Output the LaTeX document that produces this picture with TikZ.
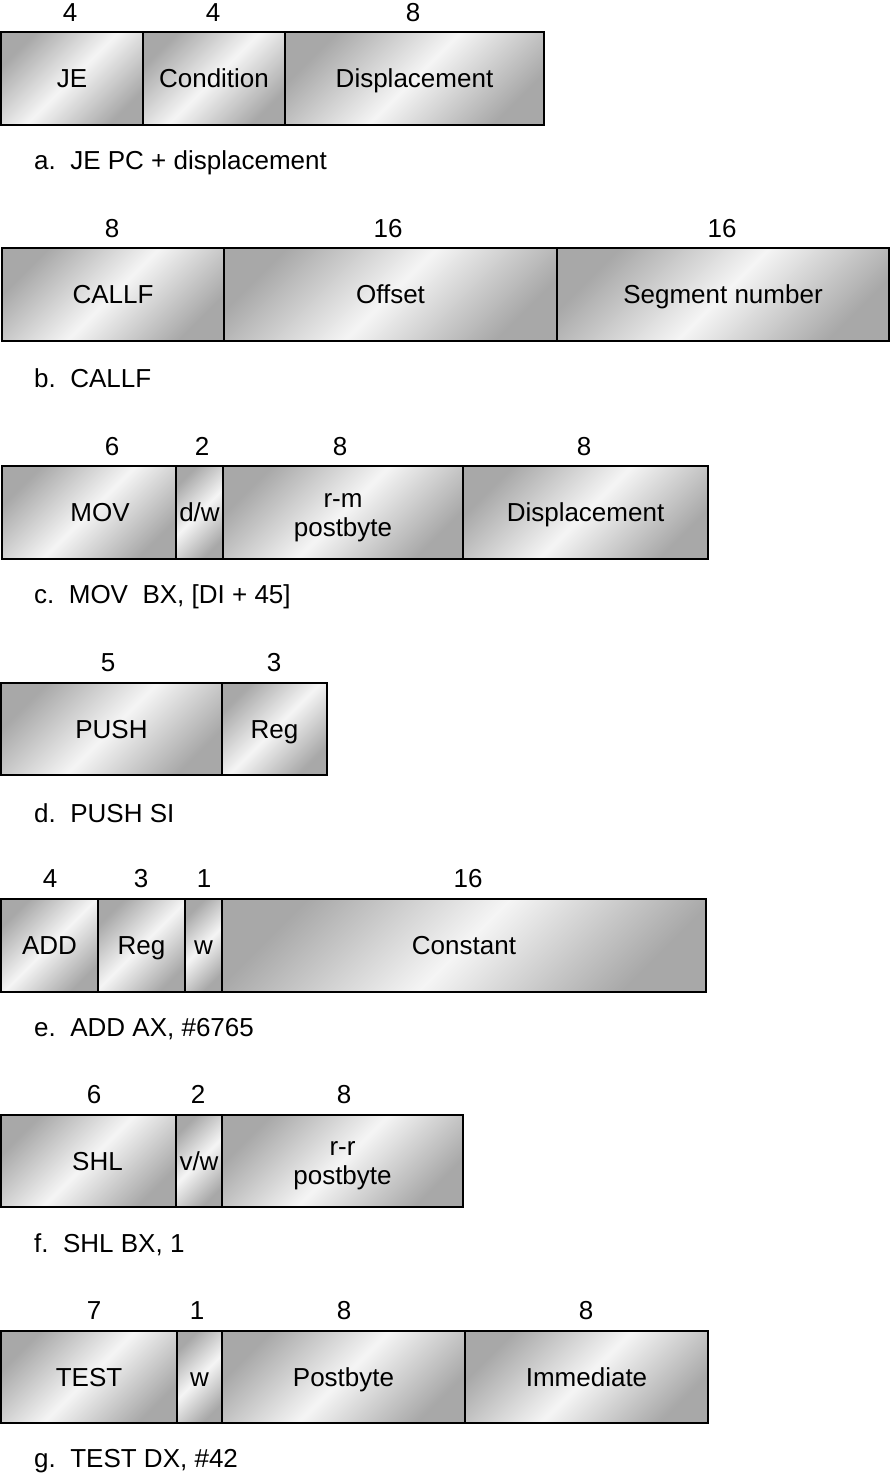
\documentclass[tikz,border=0pt]{standalone}
\usepackage{fontspec}
\setmainfont{Liberation Sans}
\newcommand{\fst}{\rule[-5pt]{0pt}{28.6pt}}
\begin{document}
\begin{tikzpicture}[x=1pt,y=-1pt,
  field/.style={draw=black, line width=1.8pt, rectangle, inner sep=0pt,
    top color=black!34, bottom color=black!34, middle color=black!4,
    shading angle=45, align=center,
    font=\fontsize{26}{29}\selectfont},
  bits/.style={inner sep=0pt, text height=23.6pt, text depth=5pt,
    font=\fontsize{26}{29}\selectfont},
  caption/.style={anchor=west, inner sep=0pt, font=\fontsize{26}{29}\selectfont}]
\useasboundingbox (0,0) rectangle (891,1475);
\newcommand{\fld}[6]{\node[field, minimum width={#3pt-#2pt}, minimum height={#5pt-#4pt}]
   (#1) at ({(#2+#3)/2},{(#4+#5)/2}) {#6};}
% a
\fld{a1}{1}{143}{32}{125}{\fst JE}
\fld{a2}{143}{285}{32}{125}{\fst Condition}
\fld{a3}{285}{544}{32}{125}{\fst Displacement}
\node[bits] (na1) at (70,12) {4};
\node[bits] (na2) at (213,12) {4};
\node[bits] (na3) at (413,12) {8};
\node[caption] (ca) at (34,163) {a.\ \ JE PC + displacement};
% b
\fld{b1}{2}{224}{248}{341}{\fst CALLF}
\fld{b2}{224}{557}{248}{341}{\fst Offset}
\fld{b3}{557}{889}{248}{341}{\fst Segment number}
\node[bits] (nb1) at (112,228) {8};
\node[bits] (nb2) at (388,228) {16};
\node[bits] (nb3) at (722,228) {16};
\node[caption] (cb) at (34,378) {b.\ \ CALLF};
% c
\fld{c1}{2}{176}{466}{559}{\fst\hspace{22pt}MOV}
\fld{c2}{176}{223}{466}{559}{\fst d/w}
\fld{c3}{223}{463}{466}{559}{\fst r-m\\\fst postbyte}
\fld{c4}{463}{708}{466}{559}{\fst Displacement}
\node[bits] (nc1) at (112,446) {6};
\node[bits] (nc2) at (202,446) {2};
\node[bits] (nc3) at (340,446) {8};
\node[bits] (nc4) at (584,446) {8};
\node[caption] (cc) at (34,597) {c.\ \ MOV\ \ BX, [DI + 45]};
% d
\fld{d1}{1}{222}{683}{775}{\fst PUSH}
\fld{d2}{222}{327}{683}{775}{\fst Reg}
\node[bits] (nd1) at (108,662) {5};
\node[bits] (nd2) at (274,662) {3};
\node[caption] (cd) at (34,813) {d.\ \ PUSH SI};
% e
\fld{e1}{1}{98}{899}{992}{\fst ADD}
\fld{e2}{98}{185}{899}{992}{\fst Reg}
\fld{e3}{185}{222}{899}{992}{\fst w}
\fld{e4}{222}{706}{899}{992}{\fst Constant}
\node[bits] (ne1) at (50,878) {4};
\node[bits] (ne2) at (141,878) {3};
\node[bits] (ne3) at (204,878) {1};
\node[bits] (ne4) at (468,878) {16};
\node[caption] (ce) at (34,1029) {e.\ \ ADD AX, \#6765};
% f
\fld{f1}{1}{176}{1115}{1207}{\fst\hspace{18pt}SHL}
\fld{f2}{176}{222}{1115}{1207}{\fst v/w}
\fld{f3}{222}{463}{1115}{1207}{\fst r-r\\\fst postbyte}
\node[bits] (nf1) at (94,1094) {6};
\node[bits] (nf2) at (198,1094) {2};
\node[bits] (nf3) at (344,1094) {8};
\node[caption] (cf) at (34,1245) {f.\ \ SHL BX, 1};
% g
\fld{g1}{1}{177}{1331}{1423}{\fst TEST}
\fld{g2}{177}{222}{1331}{1423}{\fst w}
\fld{g3}{222}{465}{1331}{1423}{\fst Postbyte}
\fld{g4}{465}{708}{1331}{1423}{\fst Immediate}
\node[bits] (ng1) at (94,1310) {7};
\node[bits] (ng2) at (197,1310) {1};
\node[bits] (ng3) at (344,1310) {8};
\node[bits] (ng4) at (586,1310) {8};
\node[caption] (cg) at (34,1461) {g.\ \ TEST DX, \#42};
\end{tikzpicture}
\end{document}
